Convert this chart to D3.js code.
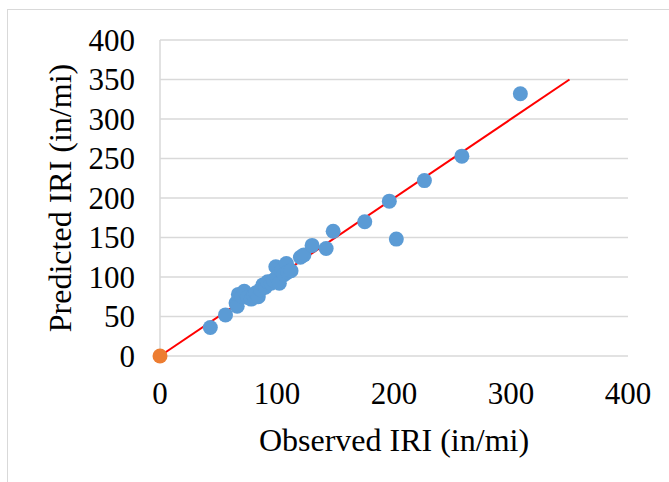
<!DOCTYPE html>
<html>
<head>
<meta charset="utf-8">
<script src="https://cdn.jsdelivr.net/npm/d3@7"></script>
<style>
  body { margin: 0; background: #fff; }
  svg text { font-family: "Liberation Serif", "Times New Roman", serif; fill: #000; }
</style>
</head>
<body>
<svg width="669" height="482"></svg>
<script>
// observed vs predicted IRI (in/mi)
var observed = [43, 56, 65, 66, 67, 70, 72, 75, 78, 80, 82, 84, 86, 88, 90, 92, 95, 97, 99, 100,
                102, 104, 106, 108, 109, 112, 120, 123, 130, 142, 148, 175, 196, 202, 226, 258, 308];
var predicted = [36, 52, 67, 63, 78, 76, 82, 74, 72, 77, 80, 75, 84, 90, 87, 94, 92, 96, 113, 100,
                 92, 108, 103, 117, 106, 108, 125, 128, 140, 136, 158, 170, 196, 148, 222, 253, 332];
var origin = [0, 0];
var lineEnds = [0, 350];
var ticks = [0, 100, 200, 300, 400];
var yTicks = [0, 50, 100, 150, 200, 250, 300, 350, 400];

var svgWidth = 669;
var svgHeight = 482;

var svg = d3.select('svg');

// outer frame (runs off the right and bottom edge)
svg.append("rect")
    .attr("x", 7.5).attr("y", 9.5)
    .attr("width", 700).attr("height", 500)
    .attr("fill", "none")
    .attr("stroke", "#d9d9d9")
    .attr("stroke-width", 1);

var x = d3.scaleLinear().domain([0, 400]).range([160, 628]);
var y = d3.scaleLinear().domain([0, 400]).range([356, 40]);

// gridlines
svg.selectAll(".grid")
    .data(yTicks)
    .enter()
    .append("line")
    .attr("x1", x(0)).attr("x2", x(400))
    .attr("y1", function(d) { return y(d); })
    .attr("y2", function(d) { return y(d); })
    .attr("stroke", "#d9d9d9")
    .attr("stroke-width", 1.5);

svg.append("line")
    .attr("x1", x(0)).attr("x2", x(0))
    .attr("y1", y(0)).attr("y2", y(400))
    .attr("stroke", "#d9d9d9")
    .attr("stroke-width", 1.5);

// tick labels
svg.selectAll(".ytick")
    .data(yTicks)
    .enter()
    .append("text")
    .attr("x", 135)
    .attr("y", function(d) { return y(d) + 10.5; })
    .attr("text-anchor", "end")
    .attr("font-size", 31)
    .text(function(d) { return d; });

svg.selectAll(".xtick")
    .data(ticks)
    .enter()
    .append("text")
    .attr("x", function(d) { return x(d); })
    .attr("y", 404)
    .attr("text-anchor", "middle")
    .attr("font-size", 31)
    .text(function(d) { return d; });

// axis titles
svg.append("text")
    .attr("x", (x(0) + x(400)) / 2)
    .attr("y", 451)
    .attr("text-anchor", "middle")
    .attr("font-size", 32)
    .text("Observed IRI (in/mi)");

svg.append("text")
    .attr("transform", "translate(71," + (y(0) + y(400)) / 2 + ") rotate(-90)")
    .attr("text-anchor", "middle")
    .attr("font-size", 32)
    .text("Predicted IRI (in/mi)");

// 1:1 line
svg.append("line")
    .attr("x1", x(lineEnds[0])).attr("y1", y(lineEnds[0]))
    .attr("x2", x(lineEnds[1])).attr("y2", y(lineEnds[1]))
    .attr("stroke", "#ff0000")
    .attr("stroke-width", 2);

// points
var pts = observed.map(function(d, i) { return [d, predicted[i]]; });
svg.selectAll(".pt")
    .data(pts)
    .enter()
    .append("circle")
    .attr("cx", function(d) { return x(d[0]); })
    .attr("cy", function(d) { return y(d[1]); })
    .attr("r", 7.5)
    .attr("fill", "#5b9bd5");

svg.append("circle")
    .attr("cx", x(origin[0]))
    .attr("cy", y(origin[1]))
    .attr("r", 7.5)
    .attr("fill", "#ed7d31");
</script>
</body>
</html>
